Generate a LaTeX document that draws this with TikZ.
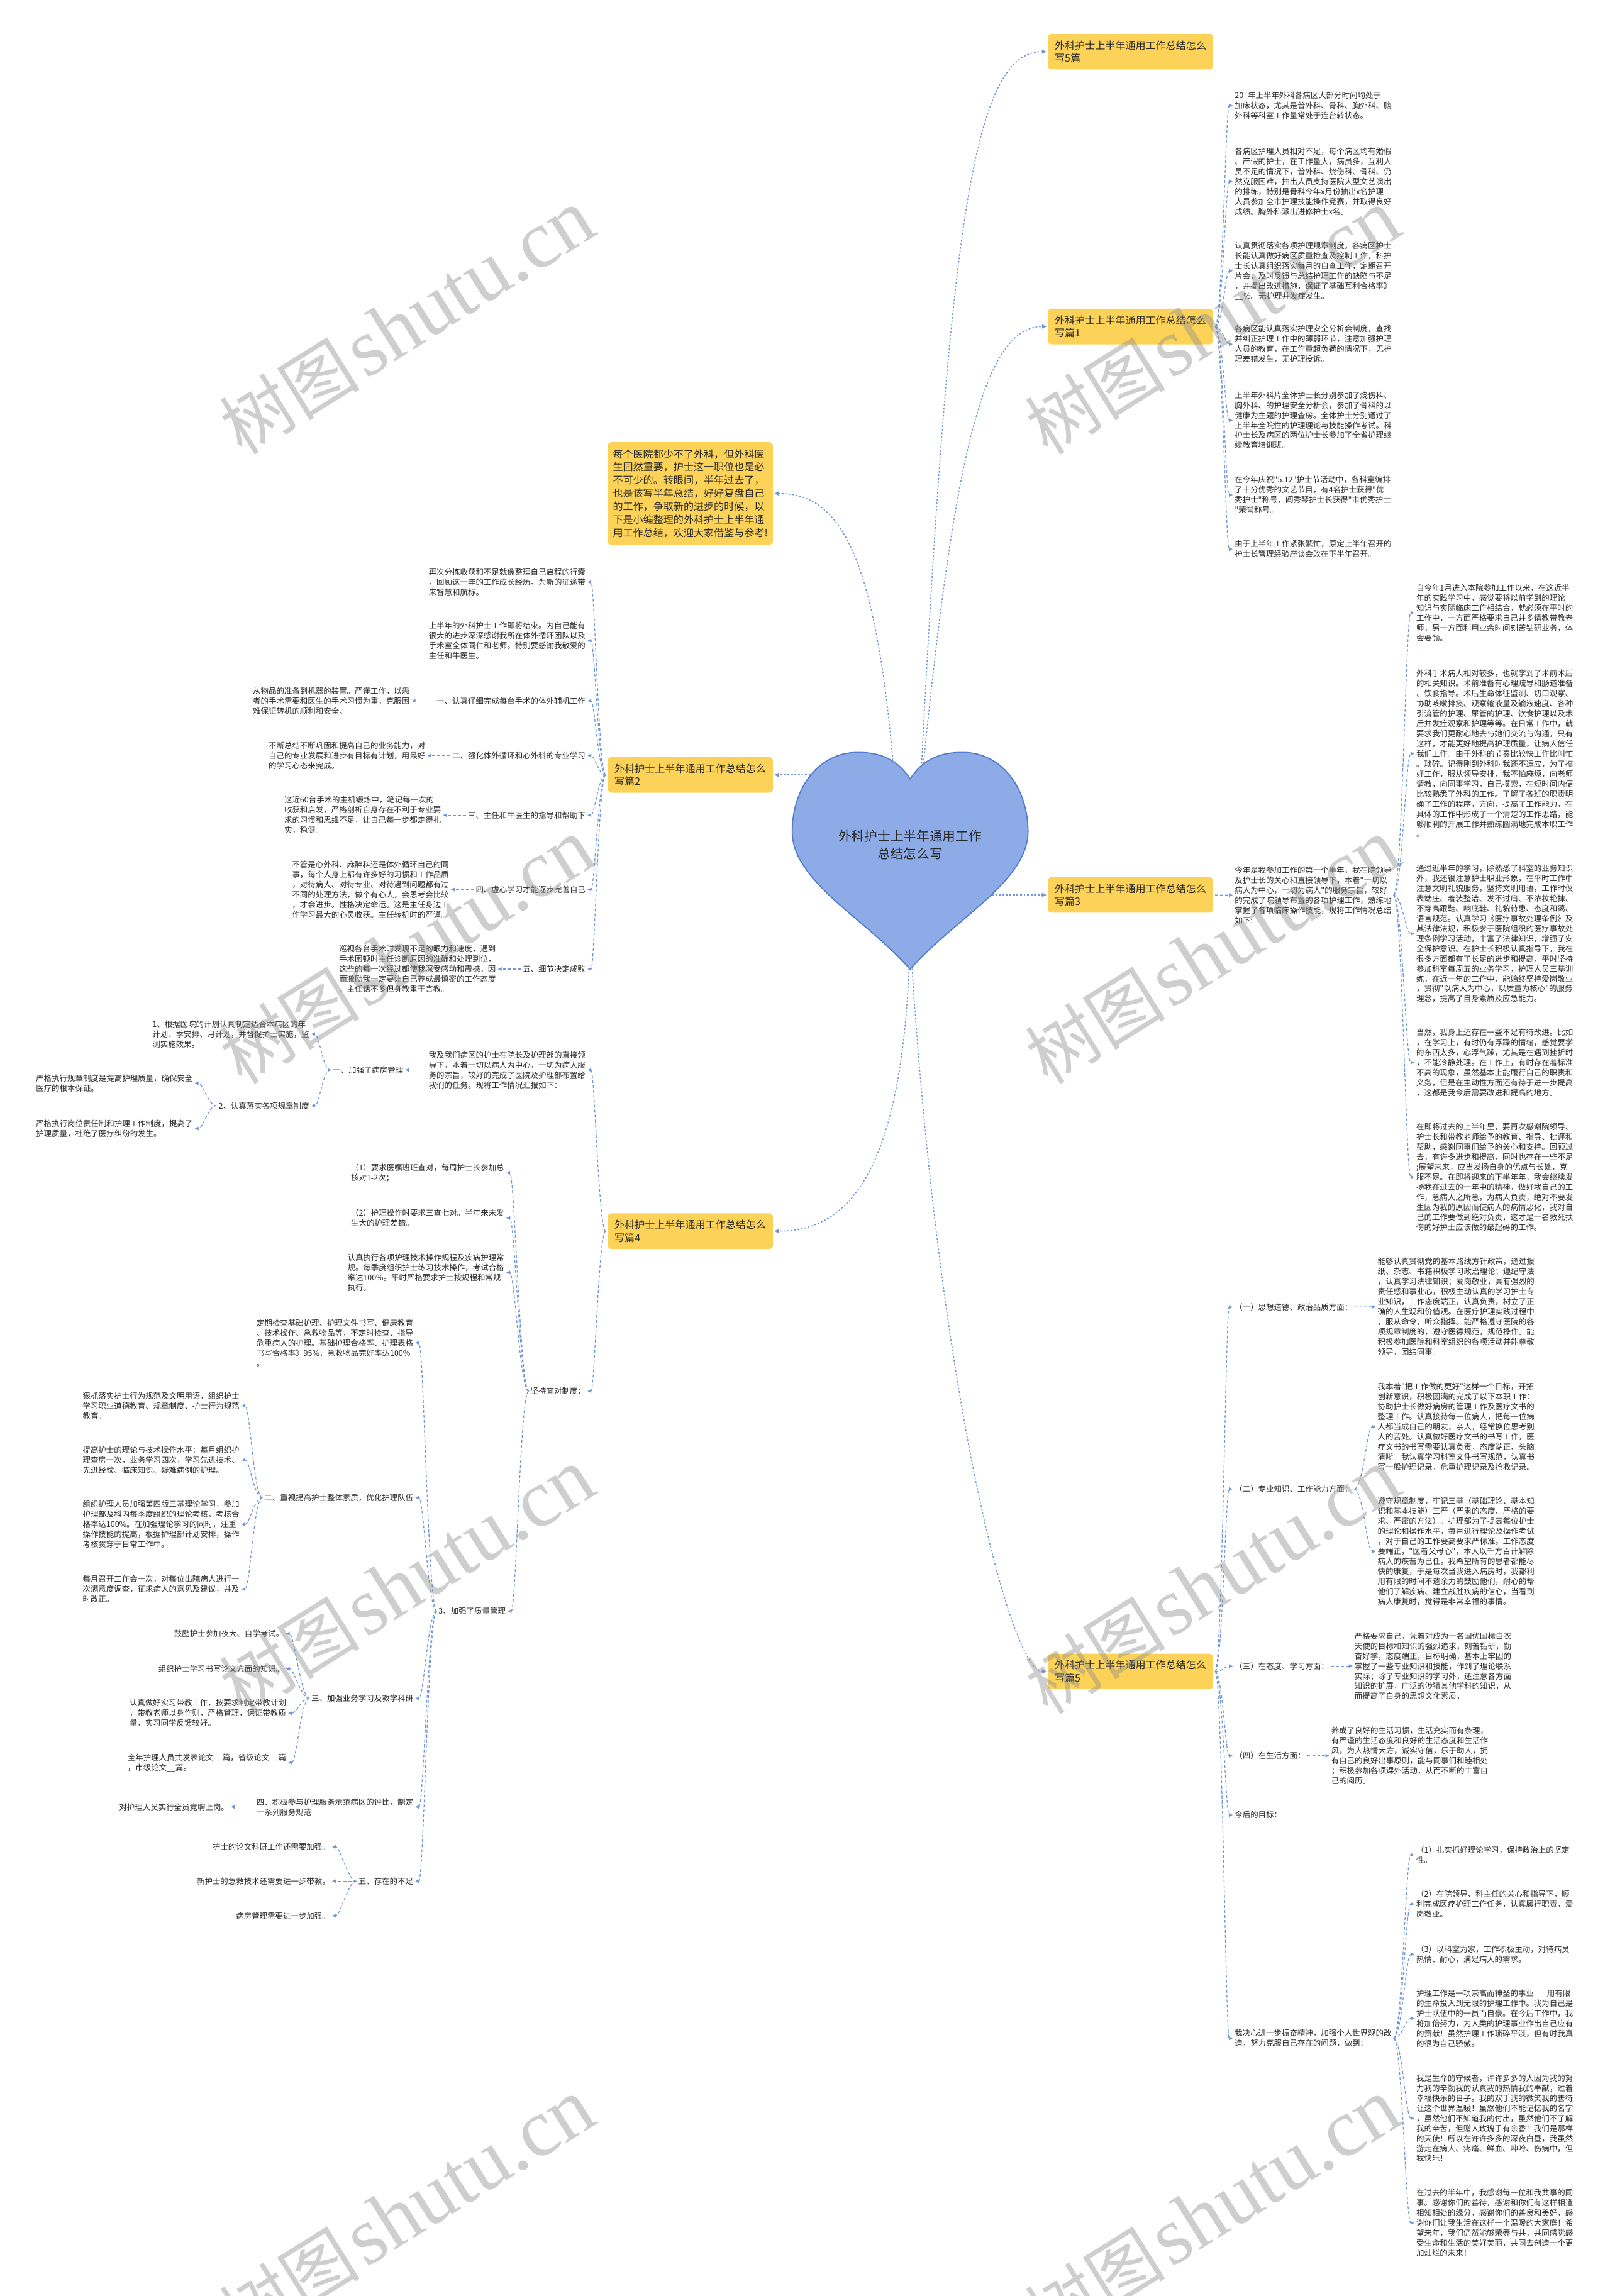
\documentclass[tikz,border=0pt]{standalone}
\usetikzlibrary{arrows.meta}
\font\fBody="Noto Sans CJK SC" at 5.35pt
\font\fBox="Noto Sans CJK SC" at 6.9pt
\font\fHeart="Noto Sans CJK SC" at 8.9pt
\font\fWmC="Noto Sans CJK SC" at 48pt
\font\fWmL="Liberation Serif" at 56pt
\definecolor{conn}{RGB}{112,150,215}
\definecolor{boxy}{RGB}{252,211,88}
\definecolor{heartf}{RGB}{141,172,231}
\definecolor{hearts}{RGB}{85,125,205}
\definecolor{txt}{RGB}{40,40,40}
\tikzset{
 body/.style={font={\fBody\baselineskip=6.85pt\relax}, align=left, inner sep=0pt, text=txt},
 ybox/.style={fill=boxy, rounded corners=2.5pt, font={\fBox\baselineskip=8.7pt\relax}, align=left, inner sep=0pt, minimum width=112.8pt, minimum height=24.3pt, text=txt},
 conn/.style={draw=conn, line width=0.55pt, dash pattern=on 2pt off 1.4pt, -{Triangle[length=2.6pt,width=2.4pt]}, shorten >=1.2pt, shorten <=1.2pt},
 rootc/.style={draw=conn, line width=0.65pt, dash pattern=on 1.2pt off 1.2pt, -{Triangle[length=3pt,width=2.8pt]}, shorten >=0.8pt},
 wm/.style={text=black!45, text opacity=0.42, rotate=32, inner sep=0pt}
}
\newcommand\linkR[3][6]{\draw[conn] (#2.east) .. controls +(#1,0) and +(-#1,0) .. (#3.west);}
\newcommand\linkL[3][6]{\draw[conn] (#2.west) .. controls +(-#1,0) and +(#1,0) .. (#3.east);}
\begin{document}
\begin{tikzpicture}[x=1pt,y=-1pt]
\useasboundingbox (0,0) rectangle (1099.4,1568);
\fill[white] (0,0) rectangle (1099.4,1568);

% ---------- first level boxes ----------
\node[ybox, anchor=west] (b5top) at (715.4,35.3) {外科护士上半年通用工作总结怎么\\写5篇};
\node[ybox, anchor=west] (b1) at (715.4,223) {外科护士上半年通用工作总结怎么\\写篇1};
\node[ybox, anchor=west] (b3) at (715.4,611.2) {外科护士上半年通用工作总结怎么\\写篇3};
\node[ybox, anchor=west] (b5) at (715.4,1141.5) {外科护士上半年通用工作总结怎么\\写篇5};
\node[ybox, anchor=east] (b2) at (528,529.2) {外科护士上半年通用工作总结怎么\\写篇2};
\node[ybox, anchor=east] (b4) at (528,840.8) {外科护士上半年通用工作总结怎么\\写篇4};
\node[ybox, anchor=east, minimum height=70pt, font={\fBox\baselineskip=8.95pt\relax}] (intro) at (528,337) {每个医院都少不了外科，但外科医\\生固然重要，护士这一职位也是必\\不可少的。转眼间，半年过去了，\\也是该写半年总结，好好复盘自己\\的工作，争取新的进步的时候，以\\下是小编整理的外科护士上半年通\\用工作总结，欢迎大家借鉴与参考!};

% ---------- root connectors ----------
\coordinate (sT) at (628,548);
\coordinate (sL) at (612,548);
\coordinate (sB) at (621.5,640);
\coordinate (sLm) at (575,529.2);
\coordinate (sRm) at (675,611.2);
\draw[rootc] (sT) .. controls (648,150) and (665,35.3) .. (b5top.west);
\draw[rootc] (sT) .. controls (650,320) and (670,223) .. (b1.west);
\draw[rootc] (sL) .. controls (600,380) and (575,337) .. (intro.east);
\draw[rootc] (sLm) -- (b2.east);
\draw[rootc] (sRm) -- (b3.west);
\draw[rootc] (sB) .. controls (618,800) and (580,840.8) .. (b4.east);
\draw[rootc] (sB) .. controls (640,950) and (690,1141.5) .. (b5.west);

% ---------- heart ----------
\path[fill=heartf, draw=hearts, line width=0.8pt] (621.5,532) .. controls (612,517) and (598,513) .. (582,514) .. controls (557,516) and (541,540) .. (541,568) .. controls (541,602) and (592,628) .. (621.5,662) .. controls (651,628) and (702,602) .. (702,568) .. controls (702,540) and (686,516) .. (661,514) .. controls (645,513) and (631,517) .. (621.5,532) -- cycle;
\node[font={\fHeart\baselineskip=12pt\relax}, align=center, text=txt, inner sep=0pt] (root) at (621.5,577) {外科护士上半年通用工作\\总结怎么写};

% ---------- branch 1 ----------
\node[body, anchor=west] (b1t1) at (843,72) {20\_年上半年外科各病区大部分时间均处于\\加床状态，尤其是普外科、骨科、胸外科、脑\\外科等科室工作量常处于连台转状态。};
\node[body, anchor=west] (b1t2) at (843,124) {各病区护理人员相对不足，每个病区均有婚假\\、产假的护士，在工作量大，病员多，互利人\\员不足的情况下，普外科、烧伤科、骨科、仍\\然克服困难，抽出人员支持医院大型文艺演出\\的排练，特别是骨科今年x月份抽出x名护理\\人员参加全市护理技能操作竞赛，并取得良好\\成绩。胸外科派出进修护士x名。};
\node[body, anchor=west] (b1t3) at (843,185) {认真贯彻落实各项护理规章制度。各病区护士\\长能认真做好病区质量检查及控制工作，科护\\士长认真组织落实每月的自查工作，定期召开\\片会，及时反馈与总结护理工作的缺陷与不足\\，并提出改进措施，保证了基础互利合格率》\\\_\_\%。无护理并发症发生。};
\node[body, anchor=west] (b1t4) at (843,235) {各病区能认真落实护理安全分析会制度，查找\\并纠正护理工作中的薄弱环节，注意加强护理\\人员的教育，在工作量超负荷的情况下，无护\\理差错发生，无护理投诉。};
\node[body, anchor=west] (b1t5) at (843,287) {上半年外科片全体护士长分别参加了烧伤科、\\胸外科、的护理安全分析会，参加了骨科的以\\健康为主题的护理查房。全体护士分别通过了\\上半年全院性的护理理论与技能操作考试。科\\护士长及病区的两位护士长参加了全省护理继\\续教育培训班。};
\node[body, anchor=west] (b1t6) at (843,338) {在今年庆祝"5.12"护士节活动中，各科室编排\\了十分优秀的文艺节目，有4名护士获得"优\\秀护士"称号，阎秀琴护士长获得"市优秀护士\\"荣誉称号。};
\node[body, anchor=west] (b1t7) at (843,375) {由于上半年工作紧张繁忙，原定上半年召开的\\护士长管理经验座谈会改在下半年召开。};
\foreach \c in {b1t1,b1t2,b1t3,b1t4,b1t5,b1t6,b1t7} {\linkR{b1}{\c}}

% ---------- branch 3 ----------
\node[body, anchor=west] (b3t) at (843,611.3) {今年是我参加工作的第一个半年，我在院领导\\及护士长的关心和直接领导下，本着"一切以\\病人为中心，一切为病人"的服务宗旨，较好\\的完成了院领导布置的各项护理工作，熟练地\\掌握了各项临床操作技能，现将工作情况总结\\如下:};
\draw[conn] (b3.east) -- (b3t.west);
\node[body, anchor=west] (b3a) at (967,418.5) {自今年1月进入本院参加工作以来，在这近半\\年的实践学习中，感觉要将以前学到的理论\\知识与实际临床工作相结合，就必须在平时的\\工作中，一方面严格要求自己并多请教带教老\\师，另一方面利用业余时间刻苦钻研业务，体\\会要领。};
\node[body, anchor=west] (b3b) at (967,514.7) {外科手术病人相对较多，也就学到了术前术后\\的相关知识。术前准备有心理疏导和肠道准备\\、饮食指导。术后生命体征监测、切口观察、\\协助咳嗽排痰、观察输液量及输液速度、各种\\引流管的护理、尿管的护理、饮食护理以及术\\后并发症观察和护理等等。在日常工作中，就\\要求我们更耐心地去与她们交流与沟通，只有\\这样，才能更好地提高护理质量，让病人信任\\我们工作。由于外科的节奏比较快工作比叫忙\\。琐碎。记得刚到外科时我还不适应，为了搞\\好工作，服从领导安排，我不怕麻烦，向老师\\请教，向同事学习，自己摸索，在短时间内便\\比较熟悉了外科的工作。了解了各班的职责明\\确了工作的程序，方向，提高了工作能力，在\\具体的工作中形成了一个清楚的工作思路，能\\够顺利的开展工作并熟练圆满地完成本职工作\\。};
\node[body, anchor=west] (b3c) at (967,637.6) {通过近半年的学习，除熟悉了科室的业务知识\\外，我还很注意护士职业形象，在平时工作中\\注意文明礼貌服务，坚持文明用语，工作时仪\\表端庄、着装整洁、发不过肩、不浓妆艳抹、\\不穿高跟鞋、响底鞋、礼貌待患、态度和蔼、\\语言规范。认真学习《医疗事故处理条例》及\\其法律法规，积极参于医院组织的医疗事故处\\理条例学习活动，丰富了法律知识，增强了安\\全保护意识。在护士长积极认真指导下，我在\\很多方面都有了长足的进步和提高，平时坚持\\参加科室每周五的业务学习，护理人员三基训\\练，在近一年的工作中，能始终坚持爱岗敬业\\，贯彻"以病人为中心，以质量为核心"的服务\\理念，提高了自身素质及应急能力。};
\node[body, anchor=west] (b3d) at (967,725.6) {当然，我身上还存在一些不足有待改进。比如\\，在学习上，有时仍有浮躁的情绪，感觉要学\\的东西太多，心浮气躁，尤其是在遇到挫折时\\，不能冷静处理。在工作上，有时存在着标准\\不高的现象，虽然基本上能履行自己的职责和\\义务，但是在主动性方面还有待于进一步提高\\，这都是我今后需要改进和提高的地方。};
\node[body, anchor=west] (b3e) at (967,803.8) {在即将过去的上半年里，要再次感谢院领导、\\护士长和带教老师给予的教育、指导、批评和\\帮助，感谢同事们给予的关心和支持。回顾过\\去，有许多进步和提高，同时也存在一些不足\\;展望未来，应当发扬自身的优点与长处，克\\服不足。在即将迎来的下半年年，我会继续发\\扬我在过去的一年中的精神，做好我自己的工\\作，急病人之所急，为病人负责，绝对不要发\\生因为我的原因而使病人的病情恶化，我对自\\己的工作要做到绝对负责，这才是一名救死扶\\伤的好护士应该做的最起码的工作。};
\foreach \c in {b3a,b3b,b3c,b3d,b3e} {\linkR[7]{b3t}{\c}}

% ---------- branch 5 (bottom right) ----------
\node[body, anchor=west] (h1) at (843,892.6) {（一）思想道德、政治品质方面：};
\node[body, anchor=west] (h2) at (843,1016.9) {（二）专业知识、工作能力方面：};
\node[body, anchor=west] (h3) at (843,1137.8) {（三）在态度、学习方面：};
\node[body, anchor=west] (h4) at (843,1199) {（四）在生活方面：};
\node[body, anchor=west] (h5) at (843,1239.5) {今后的目标：};
\node[body, anchor=west] (h6) at (843,1392) {我决心进一步振奋精神，加强个人世界观的改\\造，努力克服自己存在的问题，做到：};
\foreach \c in {h1,h2,h3,h4,h5,h6} {\linkR{b5}{\c}}
\node[body, anchor=west] (c1) at (940.6,892.4) {能够认真贯彻党的基本路线方针政策，通过报\\纸、杂志、书籍积极学习政治理论；遵纪守法\\，认真学习法律知识；爱岗敬业，具有强烈的\\责任感和事业心，积极主动认真的学习护士专\\业知识，工作态度端正，认真负责，树立了正\\确的人生观和价值观。在医疗护理实践过程中\\，服从命令，听众指挥。能严格遵守医院的各\\项规章制度的，遵守医德规范，规范操作。能\\积极参加医院和科室组织的各项活动并能尊敬\\领导，团结同事。};
\draw[conn] (h1.east) -- (c1.west);
\node[body, anchor=west] (c2a) at (940.6,974.4) {我本着"把工作做的更好"这样一个目标，开拓\\创新意识，积极圆满的完成了以下本职工作：\\协助护士长做好病房的管理工作及医疗文书的\\整理工作。认真接待每一位病人，把每一位病\\人都当成自己的朋友，亲人，经常换位思考别\\人的苦处。认真做好医疗文书的书写工作，医\\疗文书的书写需要认真负责，态度端正、头脑\\清晰。我认真学习科室文件书写规范，认真书\\写一般护理记录，危重护理记录及抢救记录。};
\node[body, anchor=west] (c2b) at (940.6,1059.5) {遵守规章制度，牢记三基（基础理论、基本知\\识和基本技能）三严（严肃的态度、严格的要\\求、严密的方法）。护理部为了提高每位护士\\的理论和操作水平，每月进行理论及操作考试\\，对于自己的工作要高要求严标准。工作态度\\要端正，"医者父母心"，本人以千方百计解除\\病人的疾苦为己任。我希望所有的患者都能尽\\快的康复，于是每次当我进入病房时，我都利\\用有限的时间不遗余力的鼓励他们，耐心的帮\\他们了解疾病、建立战胜疾病的信心，当看到\\病人康复时，觉得是非常幸福的事情。};
\linkR[7]{h2}{c2a}
\linkR[7]{h2}{c2b}
\node[body, anchor=west] (c3) at (924.8,1137.8) {严格要求自己，凭着对成为一名国优国标白衣\\天使的目标和知识的强烈追求，刻苦钻研，勤\\奋好学，态度端正，目标明确，基本上牢固的\\掌握了一些专业知识和技能，作到了理论联系\\实际；除了专业知识的学习外，还注意各方面\\知识的扩展，广泛的涉猎其他学科的知识，从\\而提高了自身的思想文化素质。};
\draw[conn] (h3.east) -- (c3.west);
\node[body, anchor=west] (c4) at (908.9,1199) {养成了良好的生活习惯，生活充实而有条理，\\有严谨的生活态度和良好的生活态度和生活作\\风，为人热情大方，诚实守信，乐于助人，拥\\有自己的良好出事原则，能与同事们和睦相处\\；积极参加各项课外活动，从而不断的丰富自\\己的阅历。};
\draw[conn] (h4.east) -- (c4.west);
\node[body, anchor=west] (c6a) at (967,1266.7) {（1）扎实抓好理论学习，保持政治上的坚定\\性。};
\node[body, anchor=west] (c6b) at (967,1300.3) {（2）在院领导、科主任的关心和指导下，顺\\利完成医疗护理工作任务，认真履行职责，爱\\岗敬业。};
\node[body, anchor=west] (c6c) at (967,1334.6) {（3）以科室为家，工作积极主动，对待病员\\热情、耐心，满足病人的需求。};
\node[body, anchor=west] (c6d) at (967,1378.4) {护理工作是一项崇高而神圣的事业——用有限\\的生命投入到无限的护理工作中。我为自己是\\护士队伍中的一员而自豪。在今后工作中，我\\将加倍努力，为人类的护理事业作出自己应有\\的贡献！虽然护理工作琐碎平淡，但有时我真\\的很为自己骄傲。};
\node[body, anchor=west] (c6e) at (967,1446.6) {我是生命的守候者，许许多多的人因为我的努\\力我的辛勤我的认真我的热情我的奉献，过着\\幸福快乐的日子。我的双手我的微笑我的善待\\让这个世界温暖！虽然他们不能记忆我的名字\\，虽然他们不知道我的付出，虽然他们不了解\\我的辛苦，但赠人玫瑰手有余香！我们是那样\\的天使！所以在许许多多的深夜白昼，我虽然\\游走在病人、疼痛、鲜血、呻吟、伤病中，但\\我快乐！};
\node[body, anchor=west] (c6f) at (967,1518.1) {在过去的半年中，我感谢每一位和我共事的同\\事。感谢你们的善待，感谢和你们有这样相逢\\相知相处的缘分，感谢你们的善良和美好，感\\谢你们让我生活在这样一个温暖的大家庭！希\\望来年，我们仍然能够荣辱与共，共同感觉感\\受生命和生活的美好美丽，共同去创造一个更\\加灿烂的未来！};
\foreach \c in {c6a,c6b,c6c,c6d,c6e,c6f} {\linkR[7]{h6}{\c}}

% ---------- branch 2 (left) ----------
\node[body, anchor=east] (b2t1) at (400,397.5) {再次分拣收获和不足就像整理自己启程的行囊\\，回顾这一年的工作成长经历。为新的征途带\\来智慧和航标。};
\node[body, anchor=east] (b2t2) at (400,437.5) {上半年的外科护士工作即将结束。为自己能有\\很大的进步深深感谢我所在体外循环团队以及\\手术室全体同仁和老师。特别要感谢我敬爱的\\主任和牛医生。};
\node[body, anchor=east] (b2h1) at (400,478.6) {一、认真仔细完成每台手术的体外辅机工作};
\node[body, anchor=east] (b2h2) at (400,516) {二、强化体外循环和心外科的专业学习};
\node[body, anchor=east] (b2h3) at (400,556.7) {三、主任和牛医生的指导和帮助下};
\node[body, anchor=east] (b2h4) at (400,607.5) {四、虚心学习才能逐步完善自己};
\node[body, anchor=east] (b2h5) at (400,661.8) {五、细节决定成败};
\foreach \c in {b2t1,b2t2,b2h1,b2h2,b2h3,b2h4,b2h5} {\linkL{b2}{\c}}
\node[body, anchor=east] (b2c1) at ([xshift=-18pt]b2h1.west) {从物品的准备到机器的装置。严谨工作，以患\\者的手术需要和医生的手术习惯为重，克服困\\难保证转机的顺利和安全。};
\node[body, anchor=east] (b2c2) at ([xshift=-18pt]b2h2.west) {不断总结不断巩固和提高自己的业务能力，对\\自己的专业发展和进步有目标有计划，用最好\\的学习心态来完成。};
\node[body, anchor=east] (b2c3) at ([xshift=-18pt]b2h3.west) {这近60台手术的主机锻炼中，笔记每一次的\\收获和启发，严格剖析自身存在不利于专业要\\求的习惯和思维不足，让自己每一步都走得扎\\实，稳健。};
\node[body, anchor=east] (b2c4) at ([xshift=-18pt]b2h4.west) {不管是心外科、麻醉科还是体外循环自己的同\\事，每个人身上都有许多好的习惯和工作品质\\，对待病人、对待专业、对待遇到问题都有过\\不同的处理方法，做个有心人，会思考会比较\\，才会进步。性格决定命运。这是主任身边工\\作学习最大的心灵收获。主任转机时的严谨。};
\node[body, anchor=east] (b2c5) at ([xshift=-18pt]b2h5.west) {巡视各台手术时发现不足的眼力和速度，遇到\\手术困顿时主任诊断原因的准确和处理到位，\\这些的每一次经过都使我深受感动和震撼，因\\而激励我一定要让自己养成最慎密的工作态度\\，主任话不多但身教重于言教。};
\foreach \p/\c in {b2h1/b2c1,b2h2/b2c2,b2h3/b2c3,b2h4/b2c4,b2h5/b2c5} {\draw[conn] (\p.west) -- (\c.east);}

% ---------- branch 4 (left) ----------
\node[body, anchor=east] (b4t) at (400,730.7) {我及我们病区的护士在院长及护理部的直接领\\导下，本着一切以病人为中心，一切为病人服\\务的宗旨，较好的完成了医院及护理部布置给\\我们的任务。现将工作情况汇报如下：};
\node[body, anchor=east] (b4h2) at (400,950) {坚持查对制度：};
\linkL{b4}{b4t}
\linkL{b4}{b4h2}
\node[body, anchor=east] (b4h1) at ([xshift=-17pt]b4t.west) {一、加强了病房管理};
\draw[conn] (b4t.west) -- (b4h1.east);
\node[body, anchor=east] (b4h1a) at (211.3,706.2) {1、根据医院的计划认真制定适合本病区的年\\计划、季安排、月计划，并督促护士实施，监\\测实施效果。};
\node[body, anchor=east] (b4h1b) at (211.3,755.1) {2、认真落实各项规章制度};
\linkL[7]{b4h1}{b4h1a}
\linkL[7]{b4h1}{b4h1b}
\node[body, anchor=east] (b4h1b1) at (131.8,739.8) {严格执行规章制度是提高护理质量，确保安全\\医疗的根本保证。};
\node[body, anchor=east] (b4h1b2) at (131.8,770.7) {严格执行岗位责任制和护理工作制度，提高了\\护理质量，杜绝了医疗纠纷的发生。};
\linkL[7]{b4h1b}{b4h1b1}
\linkL[7]{b4h1b}{b4h1b2}

\node[body, anchor=east] (b4h2a) at (344.5,801) {（1）要求医嘱班班查对，每周护士长参加总\\核对1-2次；};
\node[body, anchor=east] (b4h2b) at (344.5,831.8) {（2）护理操作时要求三查七对。半年来未发\\生大的护理差错。};
\node[body, anchor=east] (b4h2c) at (344.5,869) {认真执行各项护理技术操作规程及疾病护理常\\规。每季度组织护士练习技术操作，考试合格\\率达100\%。平时严格要求护士按规程和常规\\执行。};
\node[body, anchor=east] (b4h3) at (345.5,1100.3) {3、加强了质量管理};
\foreach \c in {b4h2a,b4h2b,b4h2c,b4h3} {\linkL[7]{b4h2}{\c}}

\node[body, anchor=east] (q1) at (282.4,917) {定期检查基础护理、护理文件书写、健康教育\\、技术操作、急救物品等，不定时检查、指导\\危重病人的护理。基础护理合格率、护理表格\\书写合格率》95\%，急救物品完好率达100\%\\。};
\node[body, anchor=east] (q2) at (282.4,1022.8) {二、重视提高护士整体素质，优化护理队伍};
\node[body, anchor=east] (q3) at (282.4,1159.9) {三、加强业务学习及教学科研};
\node[body, anchor=east] (q4) at (282.4,1234) {四、积极参与护理服务示范病区的评比，制定\\一系列服务规范};
\node[body, anchor=east] (q5) at (282.4,1284.7) {五、存在的不足};
\foreach \c in {q1,q2,q3,q4,q5} {\linkL[7]{b4h3}{\c}}

\node[body, anchor=east] (q2a) at (163.7,960) {狠抓落实护士行为规范及文明用语，组织护士\\学习职业道德教育、规章制度、护士行为规范\\教育。};
\node[body, anchor=east] (q2b) at (163.7,997) {提高护士的理论与技术操作水平：每月组织护\\理查房一次，业务学习四次，学习先进技术、\\先进经验、临床知识、疑难病例的护理。};
\node[body, anchor=east] (q2c) at (163.7,1041) {组织护理人员加强第四版三基理论学习，参加\\护理部及科内每季度组织的理论考核，考核合\\格率达100\%。在加强理论学习的同时，注重\\操作技能的提高，根据护理部计划安排，操作\\考核贯穿于日常工作中。};
\node[body, anchor=east] (q2d) at (163.7,1085.3) {每月召开工作会一次，对每位出院病人进行一\\次满意度调查，征求病人的意见及建议，并及\\时改正。};
\foreach \c in {q2a,q2b,q2c,q2d} {\linkL[7]{q2}{\c}}

\node[body, anchor=east] (q3a) at (194,1115.6) {鼓励护士参加夜大、自学考试。};
\node[body, anchor=east] (q3b) at (194,1139.6) {组织护士学习书写论文方面的知识。};
\node[body, anchor=east] (q3c) at (195.6,1170) {认真做好实习带教工作，按要求制定带教计划\\，带教老师以身作则，严格管理，保证带教质\\量，实习同学反馈较好。};
\node[body, anchor=east] (q3d) at (195.6,1203.7) {全年护理人员共发表论文\_\_篇，省级论文\_\_篇\\，市级论文\_\_篇。};
\foreach \c in {q3a,q3b,q3c,q3d} {\linkL[7]{q3}{\c}}

\node[body, anchor=east] (q4a) at (156.5,1234) {对护理人员实行全员竞聘上岗。};
\draw[conn] (q4.west) -- (q4a.east);

\node[body, anchor=east] (q5a) at (225.6,1261.2) {护士的论文科研工作还需要加强。};
\node[body, anchor=east] (q5b) at (225.6,1284.7) {新护士的急救技术还需要进一步带教。};
\node[body, anchor=east] (q5c) at (225.6,1308.3) {病房管理需要进一步加强。};
\foreach \c in {q5a,q5b,q5c} {\linkL[7]{q5}{\c}}

% ---------- watermarks ----------
\foreach \wx/\wy [count=\i] in {278/220,828/220,278/650,828/650,278/1080,828/1080,278/1510,828/1510} {
  \node[wm] (wm\i) at (\wx,\wy) {{\fWmC 树图} {\fWmL shutu.cn}};
}
\end{tikzpicture}
\end{document}
